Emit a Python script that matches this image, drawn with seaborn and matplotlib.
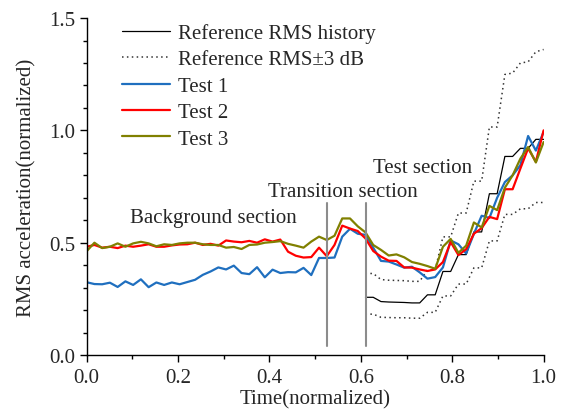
import numpy as np
import pandas as pd
import matplotlib
matplotlib.use("Agg")
import matplotlib.pyplot as plt
from matplotlib.ticker import MultipleLocator, FormatStrFormatter
import seaborn as sns

# ---- data ----
time = np.linspace(0.0, 1.0, 60)

test1 = [0.324, 0.316, 0.315, 0.322, 0.303, 0.328, 0.312, 0.337, 0.302, 0.323,
         0.312, 0.323, 0.315, 0.325, 0.335, 0.357, 0.372, 0.390, 0.381, 0.398,
         0.365, 0.360, 0.391, 0.346, 0.380, 0.365, 0.369, 0.368, 0.388, 0.356,
         0.432, 0.432, 0.434, 0.527, 0.562, 0.540, 0.535, 0.478, 0.419, 0.416,
         0.403, 0.389, 0.393, 0.368, 0.340, 0.347, 0.390, 0.510, 0.493, 0.452,
         0.540, 0.620, 0.610, 0.700, 0.770, 0.800, 0.845, 0.975, 0.910, 0.993]

test2 = [0.482, 0.490, 0.478, 0.482, 0.476, 0.487, 0.482, 0.487, 0.493, 0.482,
         0.482, 0.488, 0.492, 0.493, 0.500, 0.490, 0.495, 0.487, 0.510, 0.505,
         0.502, 0.508, 0.500, 0.515, 0.505, 0.514, 0.460, 0.442, 0.434, 0.436,
         0.478, 0.440, 0.490, 0.576, 0.563, 0.552, 0.519, 0.463, 0.438, 0.420,
         0.419, 0.390, 0.389, 0.381, 0.374, 0.381, 0.414, 0.503, 0.445, 0.471,
         0.540, 0.565, 0.615, 0.605, 0.738, 0.738, 0.830, 0.920, 0.860, 1.000]

test3 = [0.462, 0.500, 0.476, 0.482, 0.497, 0.482, 0.497, 0.504, 0.497, 0.484,
         0.493, 0.490, 0.497, 0.500, 0.500, 0.493, 0.490, 0.490, 0.478, 0.481,
         0.472, 0.490, 0.492, 0.500, 0.503, 0.507, 0.495, 0.487, 0.478, 0.505,
         0.527, 0.512, 0.531, 0.608, 0.608, 0.573, 0.546, 0.490, 0.468, 0.443,
         0.448, 0.435, 0.414, 0.406, 0.396, 0.384, 0.482, 0.517, 0.455, 0.487,
         0.590, 0.568, 0.664, 0.645, 0.745, 0.800, 0.874, 0.926, 0.857, 0.948]

# reference RMS history (test section only, starts at sample 36)
ref_start = 36
ref_rms = [0.257, 0.257, 0.238, 0.236, 0.235, 0.234, 0.232, 0.232, 0.268, 0.268,
           0.372, 0.372, 0.447, 0.447, 0.548, 0.548, 0.718, 0.718, 0.884, 0.884,
           0.920, 0.920, 0.960, 0.960]
ref_upper = [0.363, 0.363, 0.336, 0.333, 0.332, 0.331, 0.328, 0.328, 0.379, 0.379,
             0.526, 0.526, 0.632, 0.632, 0.774, 0.774, 1.015, 1.015, 1.249, 1.255,
             1.300, 1.305, 1.350, 1.360]
ref_lower = [0.182, 0.182, 0.168, 0.167, 0.166, 0.166, 0.164, 0.164, 0.190, 0.190,
             0.263, 0.263, 0.316, 0.316, 0.388, 0.388, 0.508, 0.508, 0.626, 0.626,
             0.651, 0.651, 0.679, 0.679]

section_bounds = [0.527, 0.612]
section_labels = ["Background section", "Transition section", "Test section"]

# ---- styling ----
sns.set_style("ticks")
plt.rcParams["font.family"] = ["Liberation Serif", "DejaVu Serif"]
plt.rcParams["mathtext.fontset"] = "stix"
FS = 15

fig = plt.figure(figsize=(5.61, 4.14), dpi=100)
ax = fig.add_axes([0.1545, 0.140, 0.8145, 0.814])

ref_time = time[ref_start:]
sns.lineplot(x=ref_time, y=ref_rms, ax=ax, color="black", linewidth=0.9,
             label="Reference RMS history")
sns.lineplot(x=ref_time, y=ref_upper, ax=ax, color="#333333", linewidth=1.1,
             linestyle=(0, (1, 2.2)), label="Reference RMS\u00b13 dB")
sns.lineplot(x=ref_time, y=ref_lower, ax=ax, color="#333333", linewidth=1.1,
             linestyle=(0, (1, 2.2)))
sns.lineplot(x=time, y=test1, ax=ax, color="#1f6fbf", linewidth=1.6, label="Test 1")
sns.lineplot(x=time, y=test2, ax=ax, color="#ff0000", linewidth=1.6, label="Test 2")
sns.lineplot(x=time, y=test3, ax=ax, color="#808000", linewidth=1.6, label="Test 3")

for xb in section_bounds:
    ax.plot([xb, xb], [0.04, 0.678], color="#8c8c8c", linewidth=1.5)

ax.text(0.278, 0.610, section_labels[0], fontsize=FS, ha="center", va="center")
ax.text(0.561, 0.728, section_labels[1], fontsize=FS, ha="center", va="center")
ax.text(0.736, 0.836, section_labels[2], fontsize=FS, ha="center", va="center")

ax.set_xlim(0, 1.0)
ax.set_ylim(0, 1.5)
ax.xaxis.set_major_locator(MultipleLocator(0.2))
ax.xaxis.set_minor_locator(MultipleLocator(0.1))
ax.yaxis.set_major_locator(MultipleLocator(0.5))
ax.yaxis.set_minor_locator(MultipleLocator(0.1))
ax.xaxis.set_major_formatter(FormatStrFormatter("%.1f"))
ax.yaxis.set_major_formatter(FormatStrFormatter("%.1f"))
ax.tick_params(axis="both", which="major", direction="out", length=5, width=1,
               labelsize=FS, color="black")
ax.tick_params(axis="x", which="major", pad=4)
ax.tick_params(axis="y", which="major", pad=3)
ax.tick_params(axis="both", which="minor", direction="out", length=3, width=1,
               color="black")
for s in ["top", "right"]:
    ax.spines[s].set_visible(False)
for s in ["left", "bottom"]:
    ax.spines[s].set_color("black")
    ax.spines[s].set_linewidth(1.0)

ax.set_xlabel("Time(normalized)", fontsize=FS, labelpad=2)
ax.set_ylabel("RMS acceleration(normalized)", fontsize=FS, labelpad=9)

leg = ax.legend(loc="upper left", bbox_to_anchor=(0.06, 1.01), frameon=False,
                fontsize=FS, handlelength=2.3, handletextpad=0.35,
                labelspacing=0.33, borderaxespad=0.0)

fig.savefig("out.png", dpi=100)
